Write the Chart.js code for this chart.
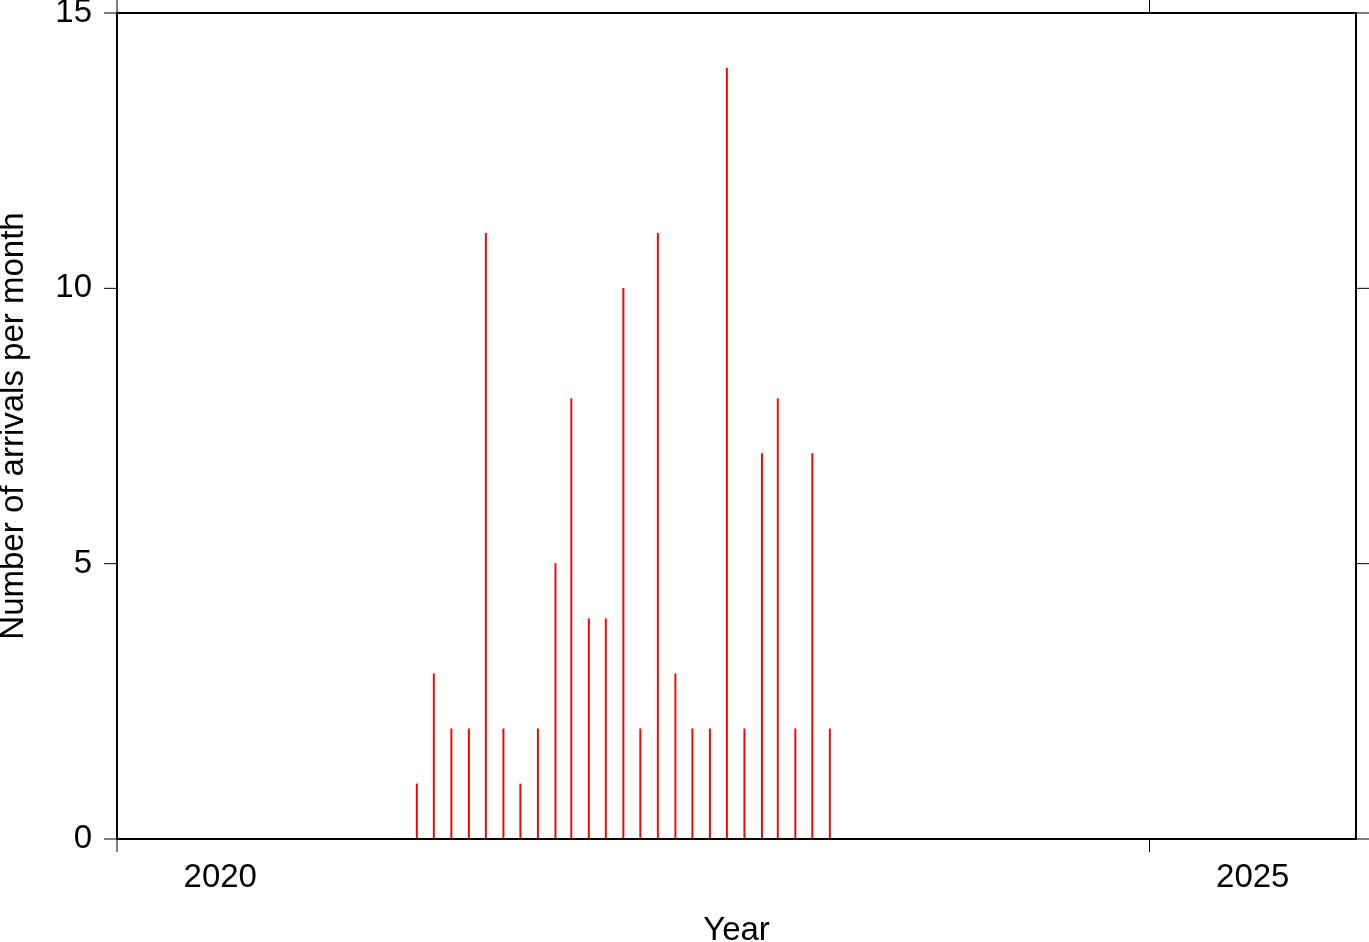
<!DOCTYPE html>
<html>
<head>
<meta charset="utf-8">
<script src="https://cdn.jsdelivr.net/npm/chart.js@4/dist/chart.umd.min.js"></script>
<style>
  body { margin: 0; background: #fff; }
  canvas { display: block; }
</style>
</head>
<body>
<canvas id="arrivalsChart" width="1369" height="942"></canvas>
<script>
// Monthly arrivals (bars plotted mid-month)
const months = ['2021-06', '2021-07', '2021-08', '2021-09', '2021-10', '2021-11', '2021-12',
  '2022-01', '2022-02', '2022-03', '2022-04', '2022-05', '2022-06', '2022-07', '2022-08',
  '2022-09', '2022-10', '2022-11', '2022-12', '2023-01', '2023-02', '2023-03', '2023-04',
  '2023-05', '2023-06'];
const arrivals = [1, 3, 2, 2, 11, 2, 1, 2, 5, 8, 4, 4, 10, 2, 11, 3, 2, 2, 14, 2, 7, 8, 2, 7, 2];
const yearTicks = [2020, 2025];
const countTicks = [0, 5, 10, 15];

// month string -> decimal year at the 15th
const toYear = (s) => {
  const [y, m] = s.split('-').map(Number);
  const start = Date.UTC(y, 0, 1);
  const end = Date.UTC(y + 1, 0, 1);
  return y + (Date.UTC(y, m - 1, 15) - start) / (end - start);
};

const fontFamily = '"Liberation Sans", Arial, Helvetica, sans-serif';

// Frame and outward tick marks, GMT style
const framePlugin = {
  id: 'frame',
  afterDatasetsDraw(chart) {
    const { ctx, chartArea: a, scales } = chart;
    ctx.save();
    ctx.strokeStyle = '#000';
    ctx.lineWidth = 1;
    ctx.beginPath();
    countTicks.forEach(v => {
      const y = scales.y.getPixelForValue(v);
      ctx.moveTo(a.left - 13, y); ctx.lineTo(a.left, y);
      ctx.moveTo(a.right, y); ctx.lineTo(a.right + 13, y);
    });
    yearTicks.forEach(v => {
      const x = scales.x.getPixelForValue(v);
      ctx.moveTo(x, a.bottom); ctx.lineTo(x, a.bottom + 13);
      ctx.moveTo(x, a.top); ctx.lineTo(x, a.top - 13);
    });
    ctx.stroke();
    ctx.lineWidth = 2;
    ctx.strokeRect(a.left, a.top, a.right - a.left, a.bottom - a.top);
    ctx.restore();
  }
};

new Chart(document.getElementById('arrivalsChart'), {
  type: 'bar',
  data: {
    datasets: [{
      data: months.map((m, i) => ({ x: toYear(m), y: arrivals[i] })),
      backgroundColor: '#ff0000',
      borderWidth: 0,
      barThickness: 1.3
    }]
  },
  options: {
    responsive: false,
    animation: false,
    layout: { padding: { top: 13, right: 13, left: 0, bottom: 0 } },
    plugins: {
      legend: { display: false },
      tooltip: { enabled: false }
    },
    scales: {
      x: {
        type: 'linear',
        min: 2020,
        max: 2026,
        offset: false,
        grid: { display: false, drawTicks: false, offset: false },
        border: { display: false },
        afterBuildTicks: (scale) => {
          // year labels sit in the middle of the year
          scale.ticks = yearTicks.map(v => ({ value: v + 0.5 }));
        },
        afterFit: (scale) => {
          scale.height = 103;
          scale.paddingLeft = 0;
          scale.paddingRight = 0;
        },
        ticks: {
          padding: 19,
          color: '#000',
          maxRotation: 0,
          font: { family: fontFamily, size: 33 },
          callback: (v) => String(Math.floor(v))
        },
        title: {
          display: true,
          text: 'Year',
          color: '#000',
          padding: { top: 0, bottom: -5 },
          font: { family: fontFamily, size: 33, lineHeight: 1 }
        }
      },
      y: {
        min: 0,
        max: 15,
        grid: { display: false, drawTicks: false },
        border: { display: false },
        afterBuildTicks: (scale) => {
          scale.ticks = countTicks.map(v => ({ value: v }));
        },
        afterFit: (scale) => {
          scale.width = 117;
          scale.paddingTop = 0;
          scale.paddingBottom = 0;
        },
        ticks: {
          padding: 25,
          color: '#000',
          font: { family: fontFamily, size: 33 }
        },
        title: {
          display: true,
          text: 'Number of arrivals per month',
          color: '#000',
          padding: { top: -3, bottom: 0 },
          font: { family: fontFamily, size: 33, lineHeight: 1 }
        }
      }
    }
  },
  plugins: [framePlugin]
});
</script>
</body>
</html>
